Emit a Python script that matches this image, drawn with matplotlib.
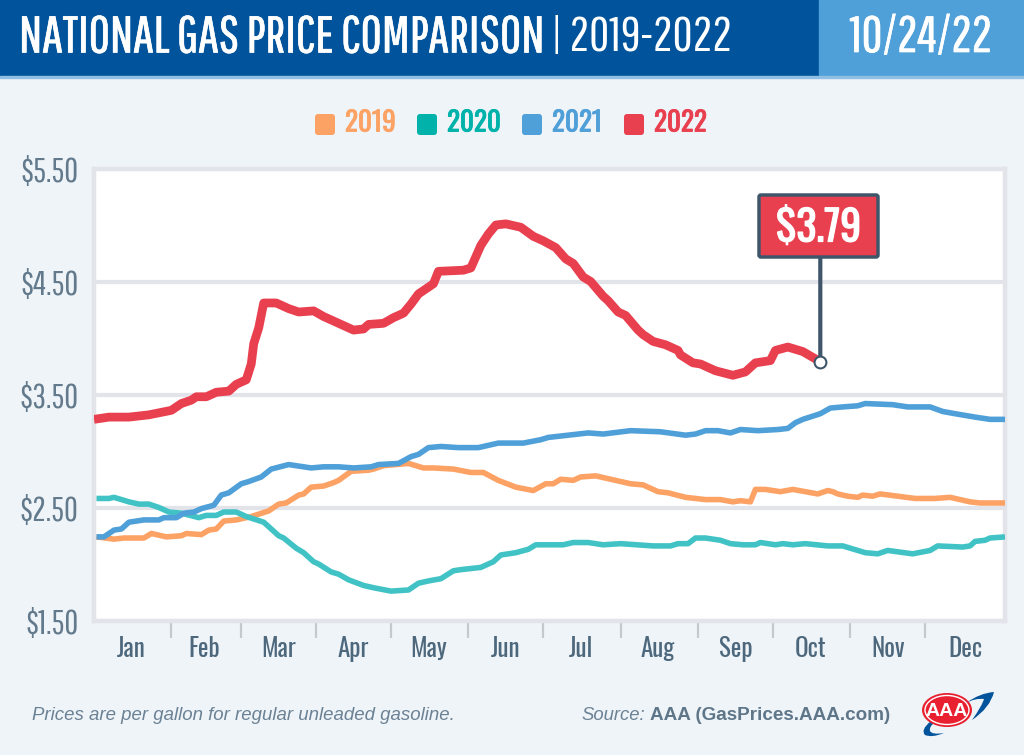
import matplotlib
matplotlib.use('Agg')
import matplotlib.pyplot as plt
import matplotlib.patheffects as pe
from matplotlib import font_manager as fm
from matplotlib.patches import Rectangle, FancyBboxPatch, Ellipse, PathPatch
from matplotlib.path import Path
from matplotlib.transforms import Affine2D

# day of year / price per gallon
days_2019 = [1, 8, 12, 20, 23, 29, 35, 37, 43, 46, 49, 52, 57, 63, 70, 74, 77, 82, 84, 87, 92, 96, 98, 103, 110, 112, 116, 121, 126, 132, 136, 144, 151, 156, 162, 169, 176, 181, 184, 187, 192, 195, 201, 207, 215, 220, 226, 230, 237, 245, 251, 256, 259, 263, 265, 269, 275, 280, 290, 294, 296, 298, 302, 306, 308, 312, 315, 322, 329, 337, 343, 347, 351, 355, 365]
prices_2019 = [2.24, 2.22, 2.23, 2.23, 2.27, 2.24, 2.25, 2.27, 2.26, 2.30, 2.31, 2.38, 2.39, 2.42, 2.47, 2.53, 2.54, 2.61, 2.62, 2.68, 2.69, 2.72, 2.74, 2.82, 2.83, 2.84, 2.87, 2.88, 2.89, 2.85, 2.85, 2.84, 2.81, 2.81, 2.74, 2.68, 2.65, 2.71, 2.71, 2.75, 2.74, 2.77, 2.78, 2.75, 2.71, 2.70, 2.64, 2.63, 2.59, 2.57, 2.57, 2.55, 2.56, 2.55, 2.66, 2.66, 2.64, 2.66, 2.62, 2.65, 2.64, 2.62, 2.60, 2.59, 2.61, 2.60, 2.62, 2.60, 2.58, 2.58, 2.59, 2.57, 2.55, 2.54, 2.54]

days_2020 = [1, 6, 8, 14, 18, 22, 26, 30, 35, 42, 45, 49, 52, 57, 61, 68, 74, 76, 81, 84, 88, 90, 95, 98, 102, 108, 112, 119, 126, 130, 134, 139, 144, 147, 155, 160, 163, 169, 174, 177, 188, 192, 198, 204, 211, 224, 231, 234, 238, 241, 245, 251, 255, 260, 265, 267, 273, 276, 280, 285, 294, 300, 309, 314, 318, 328, 335, 338, 348, 351, 353, 357, 359, 365]
prices_2020 = [2.58, 2.58, 2.59, 2.55, 2.53, 2.53, 2.50, 2.46, 2.45, 2.41, 2.43, 2.43, 2.46, 2.46, 2.42, 2.37, 2.25, 2.23, 2.14, 2.10, 2.02, 2.00, 1.93, 1.91, 1.86, 1.81, 1.79, 1.76, 1.77, 1.83, 1.85, 1.87, 1.94, 1.95, 1.97, 2.02, 2.08, 2.10, 2.13, 2.17, 2.17, 2.19, 2.19, 2.17, 2.18, 2.16, 2.16, 2.18, 2.18, 2.23, 2.23, 2.21, 2.18, 2.17, 2.17, 2.19, 2.17, 2.18, 2.17, 2.18, 2.16, 2.16, 2.10, 2.09, 2.12, 2.09, 2.12, 2.16, 2.15, 2.16, 2.20, 2.21, 2.23, 2.24]

days_2021 = [1, 4, 8, 11, 14, 20, 26, 28, 33, 36, 40, 43, 48, 51, 54, 59, 62, 67, 71, 78, 87, 92, 98, 104, 111, 114, 122, 127, 130, 134, 139, 146, 154, 158, 162, 172, 179, 182, 194, 198, 204, 215, 227, 237, 241, 245, 250, 255, 259, 266, 274, 278, 281, 284, 291, 295, 300, 306, 309, 320, 326, 335, 340, 345, 353, 359, 365]
prices_2021 = [2.24, 2.24, 2.30, 2.31, 2.37, 2.39, 2.39, 2.41, 2.41, 2.45, 2.46, 2.49, 2.52, 2.61, 2.63, 2.71, 2.73, 2.77, 2.84, 2.88, 2.85, 2.86, 2.86, 2.85, 2.86, 2.88, 2.89, 2.95, 2.97, 3.03, 3.04, 3.03, 3.03, 3.05, 3.07, 3.07, 3.10, 3.12, 3.15, 3.16, 3.15, 3.18, 3.17, 3.14, 3.15, 3.18, 3.18, 3.16, 3.19, 3.18, 3.19, 3.20, 3.25, 3.28, 3.33, 3.38, 3.39, 3.40, 3.42, 3.41, 3.39, 3.39, 3.35, 3.33, 3.30, 3.28, 3.28]

days_2022 = [0, 6, 14, 22, 31, 35, 39, 41, 45, 49, 54, 57, 61, 63, 64, 66, 68, 73, 78, 82, 88, 92, 98, 104, 108, 110, 116, 120, 124, 127, 130, 136, 138, 148, 151, 155, 158, 161, 165, 171, 176, 180, 185, 189, 192, 196, 199, 204, 206, 210, 213, 218, 220, 224, 229, 234, 235, 240, 243, 249, 256, 261, 265, 271, 273, 278, 284, 291]
prices_2022 = [3.28, 3.30, 3.30, 3.32, 3.36, 3.42, 3.45, 3.48, 3.48, 3.52, 3.53, 3.59, 3.63, 3.77, 3.95, 4.09, 4.31, 4.31, 4.26, 4.23, 4.24, 4.19, 4.13, 4.07, 4.08, 4.12, 4.13, 4.18, 4.22, 4.30, 4.39, 4.48, 4.59, 4.60, 4.62, 4.82, 4.92, 5.00, 5.01, 4.98, 4.90, 4.86, 4.80, 4.70, 4.66, 4.54, 4.50, 4.37, 4.33, 4.23, 4.20, 4.07, 4.03, 3.97, 3.94, 3.89, 3.85, 3.78, 3.77, 3.71, 3.67, 3.70, 3.78, 3.80, 3.89, 3.92, 3.88, 3.79]

month_labels = ['Jan', 'Feb', 'Mar', 'Apr', 'May', 'Jun', 'Jul', 'Aug', 'Sep', 'Oct', 'Nov', 'Dec']
month_ends = [31, 59, 89, 119, 150, 180, 211, 242, 272, 303, 333]
month_mids = [15, 44, 74, 104, 134, 165, 195, 226, 257, 287, 318, 349]
price_ticks = [1.5, 2.5, 3.5, 4.5, 5.5]
price_labels = ['$1.50', '$2.50', '$3.50', '$4.50', '$5.50']

# condensed faces if this machine has them, otherwise smaller Roboto
installed = {f.name for f in fm.fontManager.ttflist}
has_condensed = {'Pathway Gothic One', 'Oswald'} <= installed
THIN_FONT = 'Pathway Gothic One' if has_condensed else 'Roboto'
HEAVY_FONT = 'Oswald' if has_condensed else 'Roboto'
SANS = ['Liberation Sans', 'DejaVu Sans']
title_size = 37.2 if has_condensed else 21
years_size = 35.3 if has_condensed else 21
date_size = 36.5 if has_condensed else 27
tick_size = 24.5 if has_condensed else 17
legend_size = 19.5 if has_condensed else 15
month_size = 18 if has_condensed else 13
callout_size = 30 if has_condensed else 25

NAVY = '#01539b'
ORANGE = '#fda265'
TEAL = '#41c3c6'
BLUE = '#4f9fd8'
RED = '#e94050'
SLATE = '#3f566a'
GRID = '#e3e4ea'

fig = plt.figure(figsize=(10.24, 7.55), dpi=100, facecolor='#eff4f9')
# pixel coordinates, origin top left, for the header and footer furniture
px = Affine2D().scale(1, -1).translate(0, 755)

fig.add_artist(Rectangle((0, 0), 819, 76, color=NAVY, transform=px))
fig.add_artist(Rectangle((819, 0), 205, 76, color=BLUE, transform=px))
fig.add_artist(Rectangle((0, 76), 1024, 2, color='#8fbfe3', transform=px))
fig.text(19, 38, 'NATIONAL GAS PRICE COMPARISON', color='white', fontsize=title_size, family=THIN_FONT,
         va='center', transform=px, path_effects=[pe.withStroke(linewidth=0.5, foreground='white')])
fig.text(551, 38, '| 2019-2022', color='white', fontsize=years_size, family=THIN_FONT, va='center', transform=px)
fig.text(921, 38, '10/24/22', color='white', fontsize=date_size, family=THIN_FONT, va='center', ha='center',
         transform=px, path_effects=[pe.withStroke(linewidth=0.5, foreground='white')])

# legend
legend_items = [('2019', ORANGE, 315, '#fda265'), ('2020', '#00b2a9', 417, '#00b2a9'),
                ('2021', BLUE, 522, BLUE), ('2022', RED, 624, RED)]
for name, col, x0, txt in legend_items:
    fig.add_artist(FancyBboxPatch((x0 + 2, 116), 16, 17, boxstyle='round,pad=2,rounding_size=3',
                                  color=col, lw=0, transform=px))
    fig.text(x0 + 30, 123, name, color=txt, fontsize=legend_size, family=HEAVY_FONT, va='center', transform=px,
             path_effects=[pe.withStroke(linewidth=0.6, foreground=txt)])

ax = fig.add_axes([94 / 1024, 1 - 620.5 / 755, (1005 - 94) / 1024, (620.5 - 168.5) / 755])
ax.set_facecolor('white')
ax.set_xlim(0, 365)
ax.set_ylim(1.5, 5.5)

ax.grid(axis='y', color=GRID, lw=3, zorder=1)
ax.set_axisbelow(True)
for side in ax.spines:
    ax.spines[side].set_color(GRID)
    ax.spines[side].set_linewidth(3.2)

ax.plot(days_2019, prices_2019, color=ORANGE, lw=4, zorder=3, solid_capstyle='butt')
ax.plot(days_2020, prices_2020, color=TEAL, lw=4, zorder=3, solid_capstyle='butt')
ax.plot(days_2021, prices_2021, color=BLUE, lw=4, zorder=4, solid_capstyle='butt')
ax.plot(days_2022, prices_2022, color=RED, lw=6.3, zorder=5, solid_capstyle='butt')

ax.set_yticks(price_ticks)
ax.set_yticklabels(price_labels, family=THIN_FONT, fontsize=tick_size, color='#627a8c')
ax.tick_params(axis='y', length=0, pad=11)
# labels sit a little under their gridlines in the original
for lab in ax.get_yticklabels():
    lab.set_transform(lab.get_transform() + Affine2D().translate(0, -1))
ax.set_xticks(month_ends)
ax.set_xticklabels([])
ax.tick_params(axis='x', which='major', length=12, width=1.6, color='#c5c9ce')
ax.set_xticks(month_mids, minor=True)
ax.set_xticklabels(month_labels, minor=True, family=HEAVY_FONT, fontsize=month_size, color='#4d687c')
ax.tick_params(axis='x', which='minor', length=0, pad=11)

# callout for the latest price
ax.annotate('', xy=(days_2022[-1], prices_2022[-1]), xytext=(820.3, 257), textcoords=px, zorder=6,
            arrowprops=dict(arrowstyle='-', color=SLATE, lw=3, shrinkA=0, shrinkB=0))
ax.add_patch(FancyBboxPatch((759, 195), 119, 62, boxstyle='round,pad=0,rounding_size=2', fc=RED, ec=SLATE, lw=2.5,
                            transform=px, clip_on=False, zorder=7))
ax.text(818.5, 228, '$3.79', color='white', fontsize=callout_size, family=HEAVY_FONT, ha='center', va='center',
        transform=px, zorder=9, path_effects=[pe.withStroke(linewidth=0.9, foreground='white')])
ax.plot(days_2022[-1], prices_2022[-1], 'o', ms=8.5, mfc='white', mec=SLATE, mew=1.5, zorder=8)

# footer
fig.text(32, 715, 'Prices are per gallon for regular unleaded gasoline.', color='#6b8194',
         fontsize=13.4, style='italic', family=SANS, va='center', transform=px)
fig.text(581, 715, 'Source:', color='#6b8194', fontsize=13.3, style='italic', family=SANS,
         va='center', transform=px)
fig.text(650, 715, 'AAA (GasPrices.AAA.com)', color='#5f7689', fontsize=13.6, weight='bold', family=SANS,
         va='center', transform=px)

# AAA logo
swoosh_top = Path([(966, 703), (980, 693), (994, 692), (990, 708), (972, 720), (982, 706), (984, 699), (975, 698), (966, 703)],
                  [Path.MOVETO] + [Path.CURVE3] * 8)
swoosh_low = Path([(931, 721), (920, 730), (925, 735), (932, 738), (944, 733), (932, 735), (930, 731), (929, 727), (934, 723)],
                  [Path.MOVETO] + [Path.CURVE3] * 8)
fig.add_artist(PathPatch(swoosh_top, fc=NAVY, ec='none', transform=px))
fig.add_artist(PathPatch(swoosh_low, fc=NAVY, ec='none', transform=px))
fig.add_artist(Ellipse((947, 710), 50, 34, fc='#e8202f', ec='none', transform=px))
fig.add_artist(Ellipse((947, 710), 44, 29, fc='none', ec='white', lw=1, transform=px))
fig.text(947, 711, 'AAA', color='white', fontsize=14, weight='bold', family=SANS, ha='center', va='center',
         transform=px)

fig.savefig('out.png', dpi=100, facecolor=fig.get_facecolor())
